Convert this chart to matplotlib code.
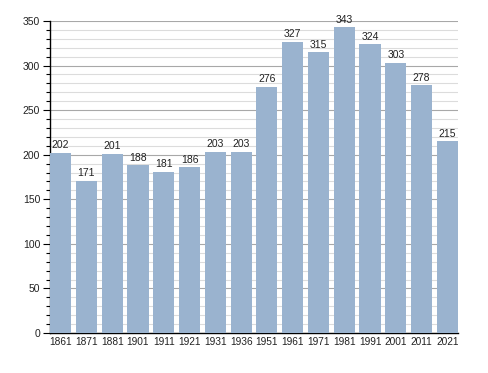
import matplotlib
matplotlib.use("Agg")
import matplotlib.pyplot as plt
from matplotlib.ticker import MultipleLocator

years = ["1861", "1871", "1881", "1901", "1911", "1921", "1931", "1936",
         "1951", "1961", "1971", "1981", "1991", "2001", "2011", "2021"]
population = [202, 171, 201, 188, 181, 186, 203, 203,
              276, 327, 315, 343, 324, 303, 278, 215]


def main():
    plt.rcParams['font.family'] = ['Liberation Sans', 'DejaVu Sans']
    fig = plt.figure(figsize=(4.88, 3.73), dpi=100)
    ax = fig.add_axes([50 / 488, 1 - 333 / 373, 408 / 488, 312 / 373])

    x = range(len(years))
    ax.bar(x, population, width=0.82, color='#9ab3cf', zorder=3)
    for xi, v in zip(x, population):
        ax.text(xi, v + 3, str(v), ha='center', va='bottom', fontsize=7.5, color='#222222', zorder=4)

    ax.set_xlim(-0.41, len(years) - 0.59)
    ax.set_ylim(0, 350)
    ax.set_xticks(list(x))
    ax.set_xticklabels(years)
    ax.yaxis.set_major_locator(MultipleLocator(50))
    ax.yaxis.set_minor_locator(MultipleLocator(10))

    ax.grid(axis='y', which='major', color='#a8a8a8', linewidth=0.8, zorder=1)
    ax.grid(axis='y', which='minor', color='#dcdcdc', linewidth=0.8, zorder=0)

    for side in ['top', 'right']:
        ax.spines[side].set_visible(False)
    ax.spines['left'].set_linewidth(1)
    ax.spines['bottom'].set_linewidth(1)

    ax.tick_params(axis='y', which='major', length=5, width=0.8, labelsize=7.5, pad=2,
                   labelcolor='#222222')
    ax.tick_params(axis='y', which='minor', length=3, width=0.8)
    ax.tick_params(axis='x', length=0, labelsize=7.3, pad=3, labelcolor='#222222')

    fig.savefig('out.png', dpi=100)


if __name__ == "__main__":
    main()
